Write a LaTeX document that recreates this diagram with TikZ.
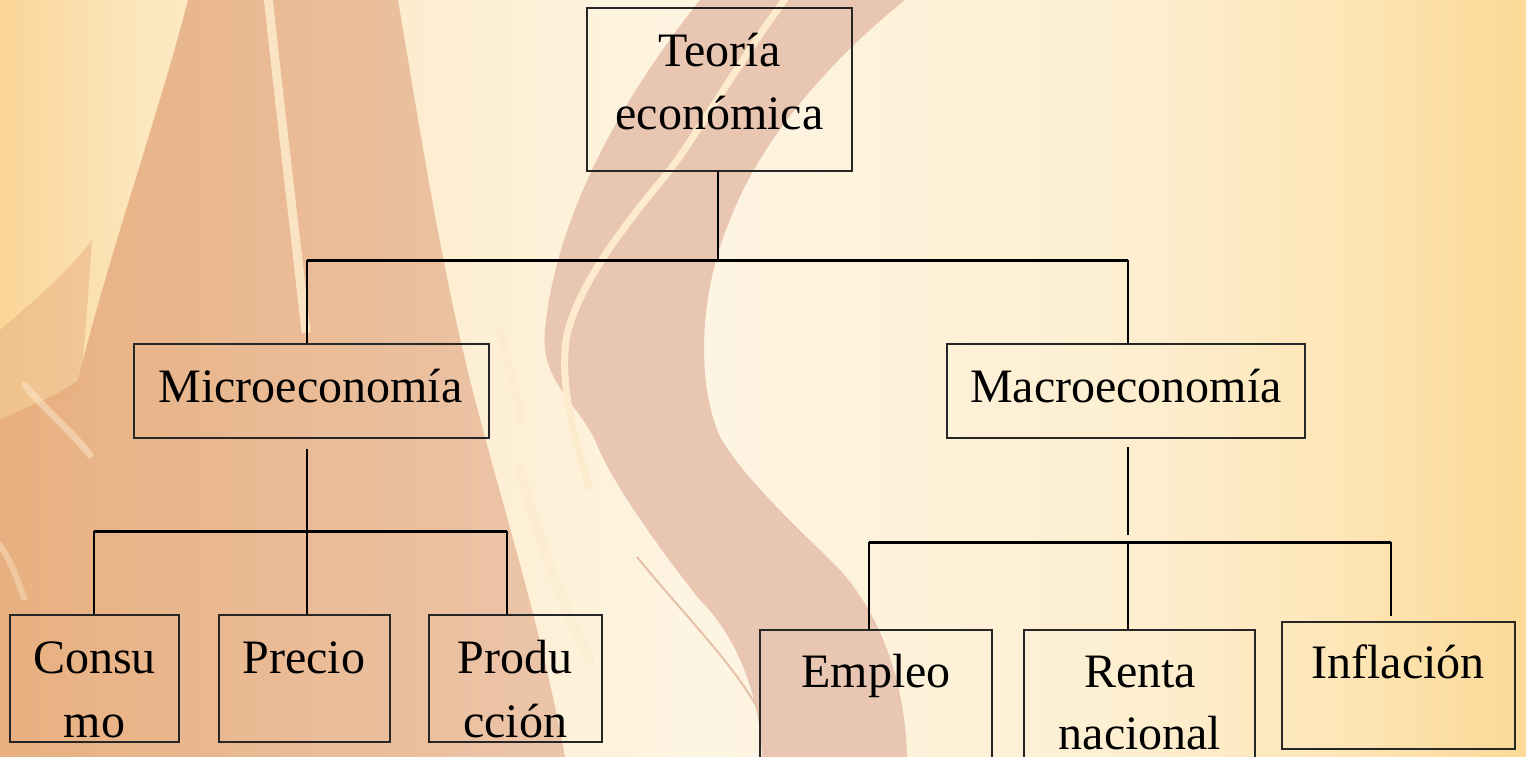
\documentclass[tikz,border=0pt]{standalone}
\usepackage{fontspec}
\setmainfont{Liberation Serif}
\definecolor{bgA}{HTML}{FAD598}
\definecolor{bgB}{HTML}{FCE7BF}
\definecolor{bgC}{HTML}{FDF4E2}
\definecolor{bgD}{HTML}{FDEECF}
\definecolor{bgE}{HTML}{FDE5B5}
\definecolor{bgF}{HTML}{FCD996}
\definecolor{flameL}{HTML}{E8B080}
\definecolor{flameR}{HTML}{EBC5A9}
\definecolor{swoosh}{HTML}{E9C6B2}
\definecolor{streak}{HTML}{FCEBCC}
\definecolor{tanline}{HTML}{E3C2A6}
\pgfdeclarehorizontalshading{bgshade}{100bp}{color(0bp)=(bgA); color(25bp)=(bgA); color(29.9bp)=(bgB); color(47.9bp)=(bgC); color(62.7bp)=(bgD); color(69.2bp)=(bgE); color(75bp)=(bgF); color(100bp)=(bgF)}
\begin{document}
\begin{tikzpicture}[x=1pt,y=-1pt,
  box/.style={draw=black!85, line width=1.3pt, rectangle, inner sep=0pt},
  lbl/.style={anchor=base, inner sep=0pt, font=\fontsize{48}{60}\selectfont},
  conn/.style={line width=2pt, black},
  bar/.style={line width=3pt, black}]
\useasboundingbox (0,0) rectangle (1526,757);
\clip (0,0) rectangle (1526,757);
% background
\shade[shading=bgshade] (0,0) rectangle (1526,757);
% left flame
\shade[left color=flameL, right color=flameR]
  (188,0) -- (398,0)
  .. controls (420,130) and (440,260) .. (470,380)
  .. controls (500,500) and (540,620) .. (565,757)
  -- (0,757) -- (0,420)
  .. controls (30,405) and (60,395) .. (78,380)
  .. controls (110,250) and (160,110) .. (188,0) -- cycle;
\fill[flameL, opacity=0.5]
  (0,330) .. controls (35,300) and (70,270) .. (92,240)
  .. controls (88,300) and (84,350) .. (80,390) -- (0,430) -- cycle;
% streaks on the flame
\draw[streak, opacity=0.85, line width=9pt]
  (268,-5) .. controls (280,110) and (295,230) .. (306,333);
\draw[streak, opacity=0.5, line width=7pt, line cap=round]
  (25,385) .. controls (45,410) and (70,430) .. (90,455);
\draw[streak, opacity=0.4, line width=6pt, line cap=round]
  (0,545) .. controls (10,560) and (18,580) .. (24,598);
\draw[streak, opacity=0.6, line width=8pt, line cap=round]
  (500,330) .. controls (508,360) and (515,390) .. (522,420);
\draw[streak, opacity=0.45, line width=10pt, line cap=round]
  (520,470) .. controls (540,540) and (560,600) .. (590,660);
% main swoosh
\fill[swoosh]
  (700,0) -- (905,0)
  .. controls (830,60) and (760,140) .. (730,220)
  .. controls (700,290) and (695,380) .. (720,437)
  .. controls (745,480) and (800,530) .. (840,570)
  .. controls (880,615) and (905,680) .. (907,757)
  -- (762,757)
  .. controls (760,700) and (740,640) .. (700,600)
  .. controls (660,550) and (610,480) .. (595,440)
  .. controls (575,400) and (540,380) .. (545,330)
  .. controls (555,220) and (620,100) .. (700,0) -- cycle;
\draw[streak, line width=7pt]
  (788,-5) .. controls (740,60) and (700,130) .. (670,170)
  .. controls (620,230) and (575,290) .. (566,340)
  .. controls (560,390) and (575,440) .. (590,490);
\draw[tanline, line width=2pt]
  (637,557) .. controls (680,610) and (730,660) .. (757,707);
% boxes
\node[box, minimum width=265pt, minimum height=163pt] (teoria) at (719.5,89.5) {};
\node[box, minimum width=355pt, minimum height=94pt] (micro) at (311.5,391) {};
\node[box, minimum width=358pt, minimum height=94pt] (macro) at (1126,391) {};
\node[box, minimum width=169pt, minimum height=127pt] (consumo) at (94.5,678.5) {};
\node[box, minimum width=171pt, minimum height=127pt] (precio) at (304.5,678.5) {};
\node[box, minimum width=173pt, minimum height=127pt] (produccion) at (515.5,678.5) {};
\node[box, minimum width=232pt, minimum height=160pt] (empleo) at (876,710) {};
\node[box, minimum width=231pt, minimum height=160pt] (renta) at (1139.5,710) {};
\node[box, minimum width=233pt, minimum height=127pt] (inflacion) at (1398.5,685.5) {};
% texts
\node[lbl] (t1) at (719.5,67) {Teoría};
\node[lbl] (t2) at (719.5,130) {económica};
\node[lbl] (t3) at (310.5,402) {Microeconomía};
\node[lbl] (t4) at (1126,402) {Macroeconomía};
\node[lbl] (t5) at (94.5,673) {Consu};
\node[lbl] (t6) at (94.5,737) {mo};
\node[lbl] (t7) at (304,673) {Precio};
\node[lbl] (t8) at (515,673) {Produ};
\node[lbl] (t9) at (515,737) {cción};
\node[lbl] (t10) at (876,687) {Empleo};
\node[lbl] (t11) at (1140,687) {Renta};
\node[lbl] (t12) at (1140,749) {nacional};
\node[lbl] (t13) at (1398,678) {Inflación};
% junctions
\coordinate (j0) at (718,260);
\coordinate (jL) at (307,260);
\coordinate (jR) at (1128,260);
\coordinate (m0) at (307,449);
\coordinate (m1) at (307,531);
\coordinate (mL) at (94,531);
\coordinate (mR) at (507,531);
\coordinate (r0) at (1128,447);
\coordinate (r1) at (1128,535);
\coordinate (rC) at (1128,542);
\coordinate (rL) at (869,542);
\coordinate (rR) at (1391,542);
% connectors
\draw[conn] (teoria.south -| j0) -- (j0);
\draw[bar] (jL) -- (jR);
\draw[conn] (jL) -- (jL |- micro.north);
\draw[conn] (jR) -- (jR |- macro.north);
\draw[conn] (m0) -- (m1);
\draw[bar] (mL) -- (mR);
\draw[conn] (mL) -- (mL |- consumo.north);
\draw[conn] (m1) -- (m1 |- precio.north);
\draw[conn] (mR) -- (mR |- produccion.north);
\draw[conn] (r0) -- (r1);
\draw[bar] (rL) -- (rR);
\draw[conn] (rL) -- (rL |- empleo.north);
\draw[conn] (rC) -- (rC |- renta.north);
\draw[conn] (rR) -- ([yshift=5pt]rR |- inflacion.north);
\end{tikzpicture}
\end{document}
